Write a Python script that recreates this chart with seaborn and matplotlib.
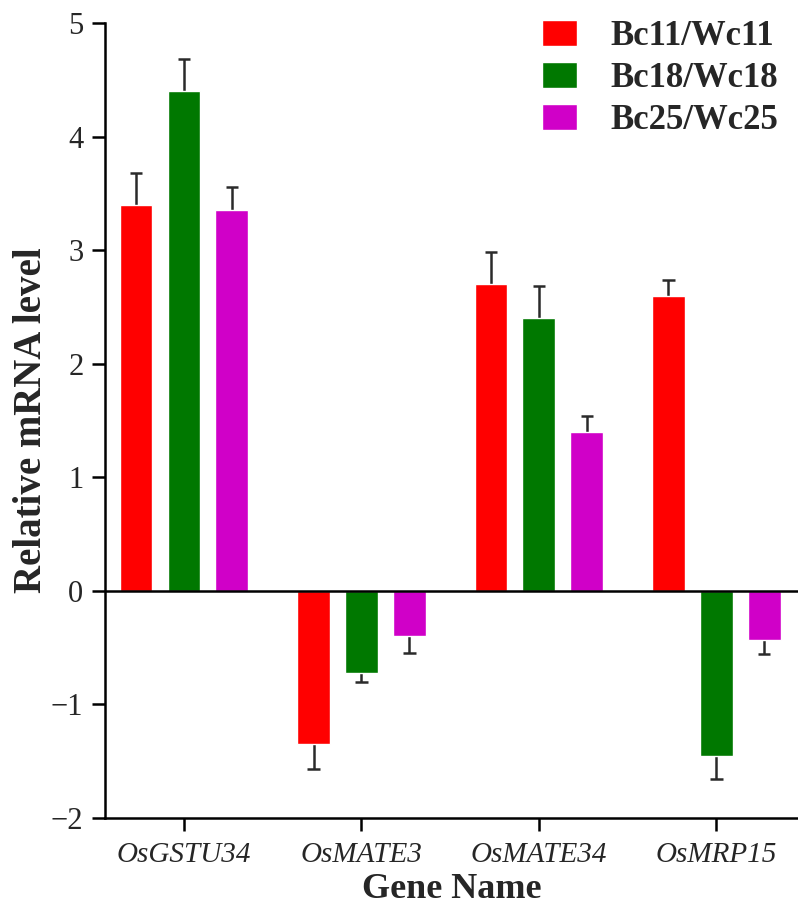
import matplotlib
matplotlib.use("Agg")
import matplotlib.pyplot as plt
import seaborn as sns
import pandas as pd
import numpy as np

genes = ["OsGSTU34", "OsMATE3", "OsMATE34", "OsMRP15"]
groups = ["Bc11/Wc11", "Bc18/Wc18", "Bc25/Wc25"]
bc11_values = [3.40, -1.35, 2.70, 2.60]
bc18_values = [4.40, -0.72, 2.40, -1.45]
bc25_values = [3.35, -0.40, 1.40, -0.43]
bc11_err = [0.28, 0.22, 0.28, 0.14]
bc18_err = [0.28, 0.08, 0.28, 0.21]
bc25_err = [0.21, 0.15, 0.14, 0.13]
colors = ["#FF0000", "#007800", "#D000C8"]

values = [bc11_values, bc18_values, bc25_values]
errors = [bc11_err, bc18_err, bc25_err]
rows = []
for g, vals, errs in zip(groups, values, errors):
    for gene, v, e in zip(genes, vals, errs):
        rows.append({"gene": gene, "group": g, "value": v, "err": e})
df = pd.DataFrame(rows)

sns.set_style("white")
plt.rcParams['font.family'] = ['Liberation Serif', 'DejaVu Serif']

fig = plt.figure(figsize=(7.98, 9.05), dpi=100)
ax = fig.add_axes([0.1316, 0.0961, 0.8684, 0.8785])

sns.barplot(data=df, x="gene", y="value", hue="group", order=genes,
            hue_order=groups, palette=colors, width=0.81, gap=0.315,
            errorbar=None, saturation=1, ax=ax, legend=True, zorder=2)

# error bars (one-sided, away from zero)
for hi, g in enumerate(groups):
    sub = df[df.group == g].set_index("gene").loc[genes]
    cont = ax.containers[hi]
    for patch, (v, e) in zip(cont.patches, zip(sub.value, sub.err)):
        xc = patch.get_x() + patch.get_width() / 2
        tip = v + np.sign(v) * e
        ax.plot([xc, xc], [v, tip], color="#2a2a2a", lw=1.8, zorder=1,
                solid_capstyle="butt")
        ax.plot([xc - 0.035, xc + 0.035], [tip, tip], color="#2a2a2a",
                lw=1.8, zorder=1, solid_capstyle="butt")

ax.axhline(0, color="black", lw=1.8, zorder=3)
ax.set_ylim(-2, 5)
ax.set_xlim(-0.445, 3.46)
ax.set_yticks([-2, -1, 0, 1, 2, 3, 4, 5])
ax.set_yticklabels(["\u22122", "\u22121", "0", "1", "2", "3", "4", "5"])

for s in ["top", "right"]:
    ax.spines[s].set_visible(False)
for s in ["left", "bottom"]:
    ax.spines[s].set_color("black")
    ax.spines[s].set_linewidth(1.8)

ax.tick_params(axis="both", direction="out", length=9.5, width=1.8,
               color="black", left=True, bottom=True)
ax.tick_params(axis="y", labelsize=22, pad=6)
ax.tick_params(axis="x", labelsize=21, pad=8)
for lab in ax.get_xticklabels():
    lab.set_fontstyle("italic")

ax.set_xlabel("Gene Name", fontsize=26, fontweight="bold", labelpad=3)
ax.set_ylabel("Relative mRNA level", fontsize=28, fontweight="bold", labelpad=1)

leg = ax.legend(loc="upper left", bbox_to_anchor=(542 / 798, 1 - 20 / 905),
                bbox_transform=fig.transFigure, frameon=False,
                prop={"size": 25, "weight": "bold"}, handlelength=1.0,
                handleheight=0.75, handletextpad=0.98, labelspacing=0.26,
                borderpad=0, borderaxespad=0)

fig.savefig("out.png", dpi=100)
